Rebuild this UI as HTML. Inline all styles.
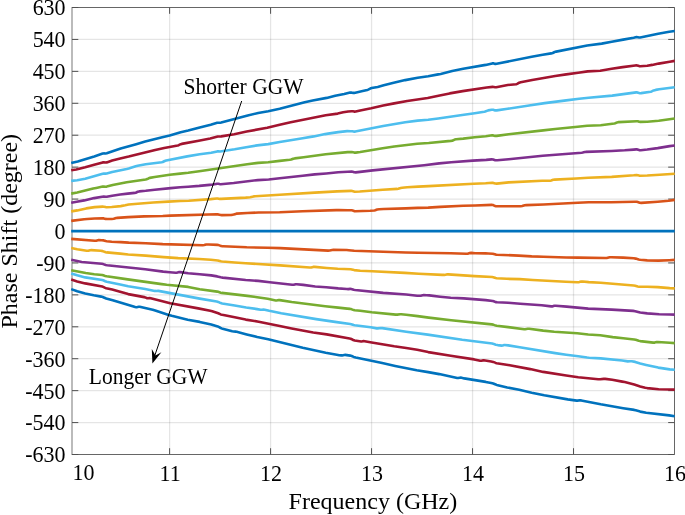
<!DOCTYPE html><html><head><meta charset="utf-8"><style>html,body{margin:0;padding:0;background:#fff;width:685px;height:515px;overflow:hidden;}svg{display:block;will-change:transform;}text{font-family:"Liberation Serif",serif;fill:#000;}</style></head><body>
<svg width="685" height="515" viewBox="0 0 685 515">
<rect width="685" height="515" fill="#fff"/>
<path d="M169.60 7.5V454.5M270.58 7.5V454.5M371.56 7.5V454.5M472.54 7.5V454.5M573.52 7.5V454.5" stroke="#262626" stroke-opacity="0.12" stroke-width="1.25" fill="none"/>
<path d="M72.0 422.57H674.5M72.0 390.64H674.5M72.0 358.71H674.5M72.0 326.79H674.5M72.0 294.86H674.5M72.0 262.93H674.5M72.0 231.00H674.5M72.0 199.07H674.5M72.0 167.14H674.5M72.0 135.21H674.5M72.0 103.29H674.5M72.0 71.36H674.5M72.0 39.43H674.5" stroke="#262626" stroke-opacity="0.12" stroke-width="1.25" fill="none"/>
<path d="M71.0 7.5H674.5V454.5H71.0" stroke="#666" stroke-width="1" fill="none"/>
<rect x="71" y="7.0" width="2" height="448.0" fill="#bbb"/>
<path d="M169.60 454.5v-6.3M169.60 7.5v6.3M270.58 454.5v-6.3M270.58 7.5v6.3M371.56 454.5v-6.3M371.56 7.5v6.3M472.54 454.5v-6.3M472.54 7.5v6.3M573.52 454.5v-6.3M573.52 7.5v6.3M72.0 422.57h6.3M674.5 422.57h-6.3M72.0 390.64h6.3M674.5 390.64h-6.3M72.0 358.71h6.3M674.5 358.71h-6.3M72.0 326.79h6.3M674.5 326.79h-6.3M72.0 294.86h6.3M674.5 294.86h-6.3M72.0 262.93h6.3M674.5 262.93h-6.3M72.0 231.00h6.3M674.5 231.00h-6.3M72.0 199.07h6.3M674.5 199.07h-6.3M72.0 167.14h6.3M674.5 167.14h-6.3M72.0 135.21h6.3M674.5 135.21h-6.3M72.0 103.29h6.3M674.5 103.29h-6.3M72.0 71.36h6.3M674.5 71.36h-6.3M72.0 39.43h6.3M674.5 39.43h-6.3M72.0 7.50h6.3M674.5 7.50h-6.3M72.0 454.50h6.3M674.5 454.50h-6.3" stroke="#505050" stroke-width="1" fill="none"/>
<path d="M71.2 231.1 L674.7 231.1" stroke="#0072BD" stroke-width="2.6" fill="none" stroke-linejoin="round" stroke-linecap="butt"/>
<path d="M71.2 220.9 L84.2 219.2 L87.2 219.0 L94.7 218.5 L102.7 218.3 L103.7 218.4 L105.7 218.9 L106.7 219.0 L111.7 219.0 L113.7 218.8 L116.2 218.0 L117.2 217.9 L128.2 217.1 L144.2 216.4 L162.7 216.0 L170.2 215.6 L216.7 214.3 L218.2 214.4 L220.7 215.0 L221.7 215.1 L231.7 214.9 L232.7 214.8 L233.7 214.6 L235.7 213.9 L236.7 213.6 L247.2 213.0 L258.7 212.5 L279.7 212.3 L302.7 211.2 L336.2 210.1 L338.7 210.1 L347.7 210.3 L351.7 210.3 L352.7 210.5 L354.2 211.1 L355.2 211.2 L370.2 210.8 L374.2 210.5 L375.2 210.2 L377.2 209.5 L379.2 209.2 L383.7 209.0 L405.7 208.4 L417.7 207.9 L428.2 207.6 L440.2 206.9 L463.2 205.8 L475.2 205.5 L491.7 204.9 L492.7 205.0 L493.2 205.1 L495.2 206.1 L495.7 206.2 L496.7 206.3 L520.7 206.2 L522.2 206.0 L524.7 205.2 L526.2 205.1 L543.7 204.5 L577.7 202.8 L588.7 202.3 L611.2 202.2 L634.7 201.7 L636.7 201.8 L637.7 202.1 L639.7 202.8 L641.2 202.9 L657.7 201.7 L668.7 200.8 L670.7 200.5 L674.7 199.9" stroke="#D95319" stroke-width="2.6" fill="none" stroke-linejoin="round" stroke-linecap="butt"/>
<path d="M71.2 211.4 L77.2 210.4 L86.2 208.4 L94.7 207.1 L102.7 206.6 L103.7 206.7 L105.7 207.1 L106.7 207.2 L111.7 207.0 L120.7 206.1 L125.2 205.3 L128.7 204.5 L137.7 203.7 L153.2 202.5 L168.2 201.6 L180.2 201.0 L188.7 200.7 L210.7 199.1 L216.7 198.5 L217.7 198.5 L219.7 198.9 L221.2 198.9 L245.7 197.6 L250.2 197.2 L253.7 196.4 L255.2 196.2 L279.7 194.8 L314.7 192.6 L337.2 191.4 L351.2 190.9 L352.2 191.0 L354.7 191.7 L359.7 191.5 L382.7 189.7 L397.2 188.9 L398.2 188.7 L400.7 188.0 L402.2 187.8 L407.2 187.3 L418.2 186.6 L428.7 186.1 L473.7 183.8 L485.7 183.3 L492.2 182.8 L493.2 182.9 L495.2 183.5 L496.7 183.6 L508.7 182.4 L542.2 180.8 L550.2 180.7 L551.2 180.5 L553.2 179.8 L554.7 179.6 L576.2 178.5 L588.2 177.8 L611.7 176.9 L633.7 175.3 L636.7 175.0 L637.7 175.2 L639.2 175.6 L640.2 175.7 L647.2 175.5 L659.7 174.8 L674.7 173.7" stroke="#EDB120" stroke-width="2.6" fill="none" stroke-linejoin="round" stroke-linecap="butt"/>
<path d="M71.2 202.8 L76.7 201.8 L84.2 200.4 L94.2 198.1 L102.2 196.7 L103.7 196.5 L105.7 196.8 L106.7 196.8 L112.2 195.7 L120.2 194.5 L127.7 193.6 L134.7 192.9 L135.7 192.7 L137.7 191.8 L139.2 191.4 L145.7 190.8 L154.7 189.7 L170.7 188.1 L180.2 187.2 L188.2 186.7 L199.2 185.9 L209.7 184.9 L211.7 184.7 L217.2 183.8 L218.2 183.8 L219.7 184.1 L220.7 184.2 L233.7 183.0 L257.7 180.1 L268.7 179.5 L279.7 178.2 L302.7 175.8 L314.7 174.4 L326.2 173.5 L338.2 172.3 L347.7 171.7 L351.7 171.6 L352.7 171.8 L354.2 172.3 L355.7 172.4 L372.7 170.4 L424.2 165.2 L439.2 163.4 L451.2 162.2 L472.7 160.6 L486.2 159.9 L491.7 159.4 L493.2 159.5 L495.2 160.2 L495.7 160.3 L497.2 160.3 L508.7 159.2 L542.7 155.7 L581.7 152.8 L582.7 152.6 L584.7 152.1 L585.7 151.9 L611.7 151.0 L624.7 150.3 L633.7 149.6 L636.2 149.4 L637.2 149.4 L639.2 150.1 L640.7 150.2 L647.2 149.5 L657.7 148.1 L669.7 146.1 L674.7 145.5" stroke="#7E2F8E" stroke-width="2.6" fill="none" stroke-linejoin="round" stroke-linecap="butt"/>
<path d="M71.2 193.6 L77.2 192.5 L93.2 188.5 L96.2 187.9 L102.7 186.6 L103.7 186.5 L105.7 186.7 L106.7 186.6 L112.7 185.1 L126.7 182.3 L145.7 179.5 L147.2 179.1 L148.7 178.3 L149.7 177.9 L154.7 177.0 L169.7 174.8 L180.2 173.6 L188.2 172.8 L199.2 171.3 L247.2 164.2 L258.2 162.9 L268.2 162.3 L279.7 160.9 L289.7 159.8 L291.2 159.5 L293.2 158.7 L294.7 158.4 L303.7 157.3 L325.7 154.3 L347.7 152.1 L351.7 152.1 L354.2 152.6 L355.7 152.6 L360.2 152.0 L382.7 148.3 L394.2 146.5 L417.2 143.7 L428.7 143.0 L450.7 140.9 L452.2 140.7 L454.7 139.6 L456.2 139.2 L463.2 138.6 L474.7 137.3 L485.7 136.2 L492.2 135.3 L493.2 135.4 L495.2 135.9 L496.7 135.9 L508.7 134.2 L543.2 130.4 L555.2 129.0 L577.7 126.8 L587.2 125.7 L600.7 125.2 L614.2 123.5 L615.2 123.2 L617.2 122.4 L618.7 122.1 L636.7 121.2 L637.7 121.3 L639.2 121.8 L640.2 121.9 L647.2 121.7 L658.7 120.7 L674.7 118.5" stroke="#77AC30" stroke-width="2.6" fill="none" stroke-linejoin="round" stroke-linecap="butt"/>
<path d="M71.2 180.9 L77.2 180.2 L85.2 178.7 L102.7 173.7 L103.7 173.6 L105.7 173.6 L106.7 173.5 L112.2 172.0 L126.7 169.0 L128.7 168.5 L135.7 166.3 L137.7 165.8 L145.7 164.2 L161.7 162.2 L162.7 162.0 L164.7 161.0 L166.2 160.5 L187.2 156.4 L199.7 154.3 L211.2 152.8 L217.2 151.4 L218.2 151.3 L220.2 151.5 L221.7 151.3 L234.7 149.3 L246.2 147.2 L257.2 145.4 L268.2 144.1 L279.7 142.0 L301.2 138.5 L313.7 136.4 L325.2 134.1 L328.2 133.6 L338.2 132.1 L347.2 131.1 L350.7 131.2 L352.2 131.3 L353.7 131.6 L355.2 131.6 L383.2 126.0 L405.2 122.3 L417.7 120.6 L428.2 119.8 L438.2 118.5 L462.2 115.0 L474.7 113.3 L484.2 111.8 L485.2 111.5 L488.2 110.4 L491.7 109.8 L493.2 109.7 L495.2 110.4 L495.7 110.4 L496.7 110.4 L507.7 108.8 L530.7 105.2 L544.7 103.1 L566.2 100.4 L579.2 98.8 L588.7 97.8 L612.2 95.6 L636.2 92.4 L637.2 92.4 L639.2 93.1 L639.7 93.2 L641.2 93.1 L650.7 91.7 L651.7 91.4 L653.7 90.4 L655.7 89.9 L659.2 89.3 L674.7 87.2" stroke="#4DBEEE" stroke-width="2.6" fill="none" stroke-linejoin="round" stroke-linecap="butt"/>
<path d="M71.2 170.3 L76.2 169.5 L78.2 169.1 L85.2 167.3 L94.2 164.7 L102.7 162.4 L103.7 162.3 L105.7 162.5 L106.7 162.4 L112.2 160.6 L120.2 158.5 L128.7 156.6 L155.2 150.0 L164.2 148.0 L177.7 145.5 L178.7 145.2 L180.7 144.2 L181.7 143.9 L198.7 140.7 L210.2 138.5 L217.7 136.5 L220.2 136.5 L221.2 136.4 L234.2 134.2 L246.7 131.5 L267.2 127.8 L279.7 124.7 L290.7 122.2 L325.7 115.2 L337.7 113.6 L343.2 112.3 L348.2 111.5 L351.7 111.2 L352.7 111.2 L354.2 111.6 L354.7 111.6 L355.7 111.5 L360.2 110.4 L371.2 108.2 L383.2 105.5 L394.2 103.4 L407.2 101.0 L427.7 98.0 L439.7 95.4 L449.7 93.4 L462.7 91.1 L486.7 87.5 L492.7 86.9 L493.7 87.0 L495.2 87.3 L496.2 87.3 L507.7 85.0 L516.2 84.3 L517.2 83.9 L519.2 82.7 L520.7 82.3 L532.2 80.0 L555.2 76.0 L566.2 74.4 L578.2 72.8 L587.7 71.4 L600.2 70.7 L611.7 68.8 L622.7 67.1 L635.2 65.5 L636.2 65.4 L637.2 65.5 L639.2 66.1 L640.2 66.2 L647.2 65.7 L652.2 64.9 L658.7 63.6 L669.7 61.8 L674.7 60.9" stroke="#A2142F" stroke-width="2.6" fill="none" stroke-linejoin="round" stroke-linecap="butt"/>
<path d="M71.2 163.1 L77.7 161.4 L94.2 156.4 L102.7 153.6 L103.7 153.4 L105.7 153.5 L106.7 153.3 L120.7 148.4 L136.2 144.2 L145.2 141.6 L162.2 137.3 L169.7 135.5 L180.7 132.2 L188.2 130.5 L199.7 127.4 L210.7 124.7 L217.2 122.8 L218.2 122.7 L220.2 122.8 L221.2 122.6 L247.7 115.4 L258.2 113.0 L268.2 111.2 L279.7 108.8 L304.7 102.2 L312.7 100.5 L326.7 97.9 L335.2 95.8 L344.2 94.0 L350.2 92.6 L351.2 92.5 L353.2 92.9 L354.2 92.9 L362.7 91.0 L367.2 90.0 L368.2 89.6 L370.2 88.6 L371.7 88.1 L377.7 86.9 L383.7 85.2 L393.7 82.7 L405.2 80.1 L417.7 77.8 L428.2 76.3 L438.2 74.4 L440.7 73.9 L452.2 71.0 L463.2 68.8 L485.7 64.9 L492.2 63.4 L493.2 63.3 L495.2 63.9 L495.7 63.9 L496.7 63.8 L531.7 56.7 L542.7 54.7 L551.2 53.4 L552.7 53.0 L554.7 52.0 L556.2 51.6 L587.2 45.5 L601.7 43.6 L611.7 41.8 L623.2 39.6 L633.7 37.8 L636.7 37.1 L637.7 37.2 L639.2 37.5 L640.2 37.5 L658.2 33.7 L669.2 31.8 L674.7 31.0" stroke="#0072BD" stroke-width="2.6" fill="none" stroke-linejoin="round" stroke-linecap="butt"/>
<path d="M71.2 238.9 L94.7 240.8 L96.2 240.7 L98.7 240.1 L101.7 240.2 L103.7 240.4 L105.7 241.1 L106.7 241.3 L111.7 241.8 L120.7 242.1 L128.7 242.6 L145.7 243.2 L162.7 244.1 L202.7 245.2 L204.2 245.0 L206.2 244.5 L208.7 244.5 L217.7 244.9 L218.7 245.1 L220.7 245.9 L221.7 246.1 L223.2 246.2 L246.7 247.3 L267.7 247.8 L280.2 248.1 L328.2 250.6 L329.7 250.5 L332.2 250.0 L333.2 249.9 L346.7 250.0 L348.7 250.2 L354.2 250.8 L383.2 251.7 L405.7 252.5 L418.2 252.8 L450.7 253.3 L466.2 253.8 L467.7 253.7 L469.7 253.1 L471.2 252.9 L475.2 253.2 L485.7 253.4 L488.2 253.5 L492.7 253.8 L495.7 254.6 L497.2 254.7 L518.7 255.6 L531.7 256.4 L543.2 256.8 L566.2 257.5 L578.2 257.6 L605.2 258.0 L606.7 258.0 L609.7 257.2 L611.2 257.2 L623.2 257.6 L633.7 258.3 L635.7 258.6 L638.7 259.5 L640.2 259.8 L647.2 260.4 L658.7 260.6 L669.2 260.2 L674.7 259.9" stroke="#D95319" stroke-width="2.6" fill="none" stroke-linejoin="round" stroke-linecap="butt"/>
<path d="M71.2 248.0 L77.2 249.3 L86.7 250.8 L88.2 250.8 L90.2 250.2 L91.2 250.1 L100.7 250.8 L102.7 251.1 L105.7 252.2 L106.7 252.4 L120.2 253.6 L128.2 254.5 L145.7 255.6 L163.7 257.1 L178.2 258.1 L199.2 259.0 L210.7 259.8 L217.7 260.5 L220.7 261.3 L222.2 261.5 L234.7 262.5 L245.7 263.3 L280.2 265.4 L309.7 267.5 L311.2 267.5 L313.2 266.9 L314.7 266.9 L326.7 268.0 L337.7 268.8 L350.7 269.3 L351.7 269.5 L354.2 270.1 L360.2 270.7 L372.2 271.2 L404.7 272.9 L418.7 273.8 L442.2 274.9 L444.2 274.9 L446.7 274.4 L448.2 274.4 L474.7 276.1 L492.2 277.0 L493.2 277.2 L495.7 278.0 L496.7 278.2 L506.7 278.8 L519.7 279.1 L532.7 280.0 L565.7 281.7 L577.2 282.2 L579.2 282.1 L581.2 281.6 L582.7 281.5 L588.7 282.1 L600.7 282.7 L633.7 285.5 L635.2 285.7 L637.7 286.4 L639.2 286.7 L647.2 286.8 L657.7 287.1 L669.7 288.1 L674.7 288.4" stroke="#EDB120" stroke-width="2.6" fill="none" stroke-linejoin="round" stroke-linecap="butt"/>
<path d="M71.2 259.8 L77.2 261.1 L81.7 262.0 L101.7 263.8 L103.2 264.1 L105.7 265.0 L107.2 265.2 L145.2 269.3 L163.2 271.6 L169.7 272.2 L175.7 272.7 L176.7 272.7 L179.2 272.1 L180.2 272.1 L188.2 273.2 L199.7 274.2 L211.2 275.4 L217.2 276.4 L220.7 277.3 L222.7 277.6 L245.7 280.0 L258.2 280.9 L269.7 282.2 L292.2 284.7 L293.7 284.7 L295.7 284.2 L296.7 284.2 L303.2 284.9 L315.2 286.5 L326.2 287.2 L338.2 288.4 L346.7 289.0 L348.2 289.1 L350.2 288.9 L351.2 289.0 L353.7 289.8 L355.2 290.0 L383.2 292.9 L406.2 294.5 L417.2 295.7 L419.2 295.7 L420.7 295.7 L422.7 295.2 L423.7 295.1 L426.7 295.2 L429.2 295.4 L440.2 296.7 L450.7 297.8 L463.7 298.4 L485.7 300.1 L492.7 301.0 L493.7 301.3 L495.7 302.1 L497.2 302.3 L508.2 302.8 L520.2 303.8 L541.7 305.3 L551.2 306.4 L552.2 306.4 L554.2 305.8 L555.7 305.8 L566.7 306.6 L588.2 308.6 L611.7 309.6 L633.2 310.9 L635.2 311.2 L640.2 312.5 L647.2 313.4 L659.2 314.2 L669.7 314.5 L674.7 314.6" stroke="#7E2F8E" stroke-width="2.6" fill="none" stroke-linejoin="round" stroke-linecap="butt"/>
<path d="M71.2 270.2 L85.7 273.0 L94.2 274.2 L102.2 275.0 L103.2 275.3 L105.2 275.9 L106.7 276.3 L127.7 279.4 L161.7 284.1 L166.7 284.8 L188.2 286.9 L199.7 289.3 L217.2 291.6 L218.2 291.8 L220.7 292.7 L221.7 292.9 L234.7 294.4 L245.2 295.6 L257.2 297.2 L267.7 298.8 L275.7 300.5 L276.7 300.5 L278.7 300.1 L279.7 300.1 L291.7 302.0 L325.2 306.2 L338.2 307.6 L347.2 308.6 L350.2 308.9 L351.2 309.1 L353.7 310.1 L354.7 310.3 L360.2 310.7 L371.7 312.3 L395.7 314.6 L397.2 314.6 L400.2 314.3 L401.2 314.3 L406.2 314.7 L417.7 316.1 L428.7 317.6 L451.2 320.3 L491.7 324.4 L493.2 324.6 L495.7 325.6 L496.7 325.8 L508.2 327.1 L524.2 329.2 L525.2 329.2 L527.7 328.8 L529.2 328.8 L543.2 330.6 L554.2 331.7 L577.2 333.3 L588.2 334.5 L600.2 335.3 L612.7 337.1 L623.2 338.3 L634.2 339.5 L635.7 339.8 L638.7 340.7 L640.2 341.1 L653.2 342.6 L654.7 342.6 L656.7 342.1 L657.7 342.0 L669.7 342.8 L674.7 343.1" stroke="#77AC30" stroke-width="2.6" fill="none" stroke-linejoin="round" stroke-linecap="butt"/>
<path d="M71.2 273.4 L77.2 275.3 L85.2 277.4 L102.2 280.0 L103.2 280.3 L105.2 281.2 L106.7 281.7 L120.2 284.4 L128.2 286.3 L145.2 289.0 L154.7 290.9 L156.2 291.0 L158.2 290.9 L159.7 291.1 L199.7 298.6 L216.7 301.5 L218.2 301.9 L220.7 303.1 L222.2 303.5 L234.7 305.5 L246.2 307.5 L257.2 309.1 L260.7 309.7 L261.7 309.8 L263.7 309.6 L264.7 309.7 L269.2 310.8 L281.2 313.3 L316.2 319.1 L336.7 322.1 L350.2 324.0 L351.2 324.2 L353.7 325.0 L354.7 325.2 L370.7 327.3 L376.7 328.4 L377.7 328.4 L380.7 328.0 L382.2 328.1 L406.2 331.7 L427.7 334.6 L462.2 339.8 L492.2 343.5 L493.7 343.9 L495.7 344.7 L497.7 345.1 L501.7 345.6 L502.7 345.5 L504.2 345.1 L504.7 345.0 L508.2 345.4 L519.7 347.2 L555.2 353.1 L566.2 354.7 L578.2 356.2 L587.2 357.5 L589.2 357.7 L600.7 358.4 L622.2 360.5 L627.7 361.4 L630.2 361.2 L631.7 361.3 L635.2 361.9 L640.2 363.5 L646.2 364.9 L658.2 367.6 L669.7 369.4 L674.7 369.7" stroke="#4DBEEE" stroke-width="2.6" fill="none" stroke-linejoin="round" stroke-linecap="butt"/>
<path d="M71.2 279.5 L77.2 281.4 L85.2 283.4 L102.2 286.5 L103.2 286.9 L105.2 287.9 L106.2 288.3 L112.2 289.6 L119.2 291.4 L128.2 294.1 L144.2 297.1 L145.2 297.4 L147.2 298.2 L147.7 298.2 L149.7 298.0 L150.7 298.2 L170.2 303.2 L198.2 308.4 L210.2 310.8 L212.2 311.3 L216.7 312.8 L218.2 313.3 L220.7 314.4 L222.2 314.8 L234.7 317.3 L245.7 319.6 L258.7 321.7 L279.7 325.9 L291.7 328.4 L313.2 332.5 L326.7 334.4 L348.2 338.3 L350.7 338.8 L351.7 339.2 L353.2 340.0 L354.7 340.5 L361.2 341.5 L361.7 341.5 L363.7 341.1 L364.7 341.2 L371.7 342.5 L394.2 346.3 L406.2 348.0 L417.2 349.8 L428.2 352.1 L450.7 355.8 L474.2 359.4 L480.2 360.8 L481.2 360.8 L482.7 360.4 L483.7 360.3 L491.2 361.5 L493.2 361.9 L495.7 362.9 L496.7 363.2 L509.7 365.2 L530.2 369.1 L543.2 371.9 L566.2 375.5 L578.2 377.2 L598.2 379.2 L600.2 379.3 L603.7 378.9 L605.2 378.9 L612.2 379.8 L622.2 381.6 L624.7 382.1 L634.2 384.4 L640.2 386.4 L645.2 387.7 L647.2 388.1 L658.7 389.2 L669.2 389.5 L674.7 389.6" stroke="#A2142F" stroke-width="2.6" fill="none" stroke-linejoin="round" stroke-linecap="butt"/>
<path d="M71.2 289.1 L77.2 291.3 L85.2 293.5 L93.7 295.3 L101.2 296.6 L102.7 297.0 L106.2 298.5 L112.7 300.2 L135.2 307.0 L136.2 307.2 L136.7 307.2 L138.7 306.8 L139.7 306.8 L152.7 309.7 L155.2 310.4 L168.7 314.9 L171.7 315.8 L187.7 319.8 L199.7 321.9 L211.2 324.4 L217.7 326.4 L218.7 326.9 L220.7 328.0 L221.7 328.4 L232.2 331.3 L233.7 331.5 L235.7 331.6 L236.7 331.7 L246.7 334.4 L257.2 337.0 L268.2 339.2 L302.7 347.8 L325.7 352.8 L336.7 354.8 L339.2 355.2 L341.2 355.4 L342.2 355.4 L344.2 355.0 L345.2 354.9 L350.2 355.6 L351.7 356.0 L353.7 356.9 L355.7 357.4 L382.2 363.0 L395.2 365.9 L416.7 370.3 L428.2 372.1 L439.2 374.1 L457.2 378.0 L458.2 378.0 L459.7 377.7 L460.7 377.6 L464.2 378.4 L485.7 381.9 L491.2 383.0 L493.2 383.5 L495.7 384.5 L496.7 384.9 L507.2 387.4 L519.2 389.8 L531.7 392.7 L544.2 395.3 L567.7 399.4 L576.7 400.6 L577.7 400.6 L579.7 400.3 L581.2 400.4 L600.7 404.3 L623.2 408.2 L634.2 409.9 L635.7 410.3 L640.2 411.6 L646.2 412.7 L669.2 415.4 L674.7 416.3" stroke="#0072BD" stroke-width="2.6" fill="none" stroke-linejoin="round" stroke-linecap="butt"/>
<path d="M241.7 101.0L153.5 359.3" stroke="#000" stroke-width="1" fill="none"/>
<path d="M152.4 363.6L151.8 348.9L155.5 355.4L161.4 352.3Z" fill="#000"/>
<text transform="translate(65.60 462.40) scale(1 1.08)" font-size="22" text-anchor="end">-630</text>
<text transform="translate(65.60 430.47) scale(1 1.08)" font-size="22" text-anchor="end">-540</text>
<text transform="translate(65.60 398.54) scale(1 1.08)" font-size="22" text-anchor="end">-450</text>
<text transform="translate(65.60 366.61) scale(1 1.08)" font-size="22" text-anchor="end">-360</text>
<text transform="translate(65.60 334.69) scale(1 1.08)" font-size="22" text-anchor="end">-270</text>
<text transform="translate(65.60 302.76) scale(1 1.08)" font-size="22" text-anchor="end">-180</text>
<text transform="translate(65.60 270.83) scale(1 1.08)" font-size="22" text-anchor="end">-90</text>
<text transform="translate(65.60 238.90) scale(1 1.08)" font-size="22" text-anchor="end">0</text>
<text transform="translate(65.60 206.97) scale(1 1.08)" font-size="22" text-anchor="end">90</text>
<text transform="translate(65.60 175.04) scale(1 1.08)" font-size="22" text-anchor="end">180</text>
<text transform="translate(65.60 143.11) scale(1 1.08)" font-size="22" text-anchor="end">270</text>
<text transform="translate(65.60 111.19) scale(1 1.08)" font-size="22" text-anchor="end">360</text>
<text transform="translate(65.60 79.26) scale(1 1.08)" font-size="22" text-anchor="end">450</text>
<text transform="translate(65.60 47.33) scale(1 1.08)" font-size="22" text-anchor="end">540</text>
<text transform="translate(65.60 15.40) scale(1 1.08)" font-size="22" text-anchor="end">630</text>
<text transform="translate(170.10 481.20) scale(1 1.08)" font-size="22" text-anchor="middle">11</text>
<text transform="translate(271.08 481.20) scale(1 1.08)" font-size="22" text-anchor="middle">12</text>
<text transform="translate(372.06 481.20) scale(1 1.08)" font-size="22" text-anchor="middle">13</text>
<text transform="translate(473.04 481.20) scale(1 1.08)" font-size="22" text-anchor="middle">14</text>
<text transform="translate(574.02 481.20) scale(1 1.08)" font-size="22" text-anchor="middle">15</text>
<text transform="translate(675.00 481.20) scale(1 1.08)" font-size="22" text-anchor="middle">16</text>
<text transform="translate(72.50 480.00) scale(1 1.08)" font-size="22">10</text>
<text transform="translate(288.60 509.20) scale(1 1.0)" font-size="24">Frequency (GHz)</text>
<text transform="translate(17.30 328.50) rotate(-90) scale(1 1.0)" font-size="24">Phase Shift (degree)</text>
<text transform="translate(183.50 94.10) scale(1 1.04)" font-size="21.5">Shorter GGW</text>
<text transform="translate(88.80 383.90) scale(1 1.04)" font-size="21.5">Longer GGW</text>
</svg></body></html>
